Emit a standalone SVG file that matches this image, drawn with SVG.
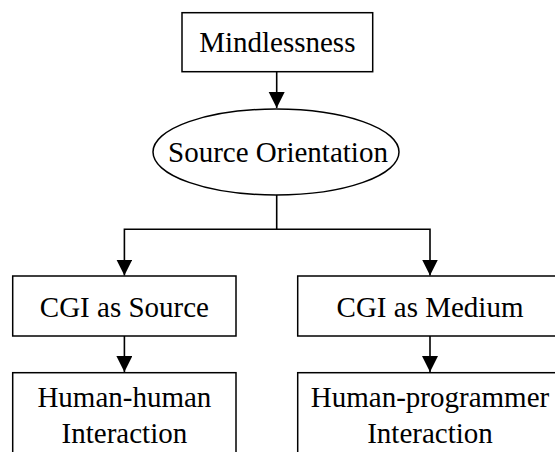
<svg xmlns="http://www.w3.org/2000/svg" width="555" height="452" viewBox="0 0 555 452">
<style>
.box{fill:#fff;stroke:#000;stroke-width:1.5}
.t{font-family:"Liberation Serif","Times New Roman",serif;font-size:29px;fill:#000;text-anchor:middle}
.c{fill:none;stroke:#000;stroke-width:1.6}
</style>
<defs>
<marker id="ah" markerUnits="userSpaceOnUse" markerWidth="16" markerHeight="18" refX="16" refY="8" orient="auto">
<path d="M0,0 L16,8 L0,16 Z" fill="#000"/>
</marker>
</defs>
<rect width="555" height="452" fill="#fff"/>
<g id="connectors">
<path class="c" d="M276.7,71.7 V108" marker-end="url(#ah)"/>
<path class="c" d="M276.7,195 V229.3 H124.4 V275.5" marker-end="url(#ah)"/>
<path class="c" d="M276.7,229.3 H430 V275.5" marker-end="url(#ah)"/>
<path class="c" d="M124.4,336 V372" marker-end="url(#ah)"/>
<path class="c" d="M430,336 V372" marker-end="url(#ah)"/>
</g>
<g id="mindlessness">
<rect class="box" x="182" y="12.7" width="190.7" height="59"/>
<text class="t" x="277.3" y="51.7">Mindlessness</text>
</g>
<g id="source-orientation">
<ellipse class="box" cx="276" cy="152" rx="123" ry="43"/>
<text class="t" x="278" y="161.7">Source Orientation</text>
</g>
<g id="cgi-source">
<rect class="box" x="12.7" y="276" width="223.3" height="60"/>
<text class="t" x="124.4" y="316.7">CGI as Source</text>
</g>
<g id="cgi-medium">
<rect class="box" x="297.7" y="276" width="264.6" height="60"/>
<text class="t" x="430" y="316.7">CGI as Medium</text>
</g>
<g id="human-human">
<rect class="box" x="12.7" y="372.7" width="223.3" height="90"/>
<text class="t" x="124.4" y="406.7">Human-human</text>
<text class="t" x="124.4" y="442.7">Interaction</text>
</g>
<g id="human-programmer">
<rect class="box" x="297.7" y="372.7" width="264.6" height="90"/>
<text class="t" x="430" y="406.7">Human-programmer</text>
<text class="t" x="430" y="442.7">Interaction</text>
</g>
</svg>
